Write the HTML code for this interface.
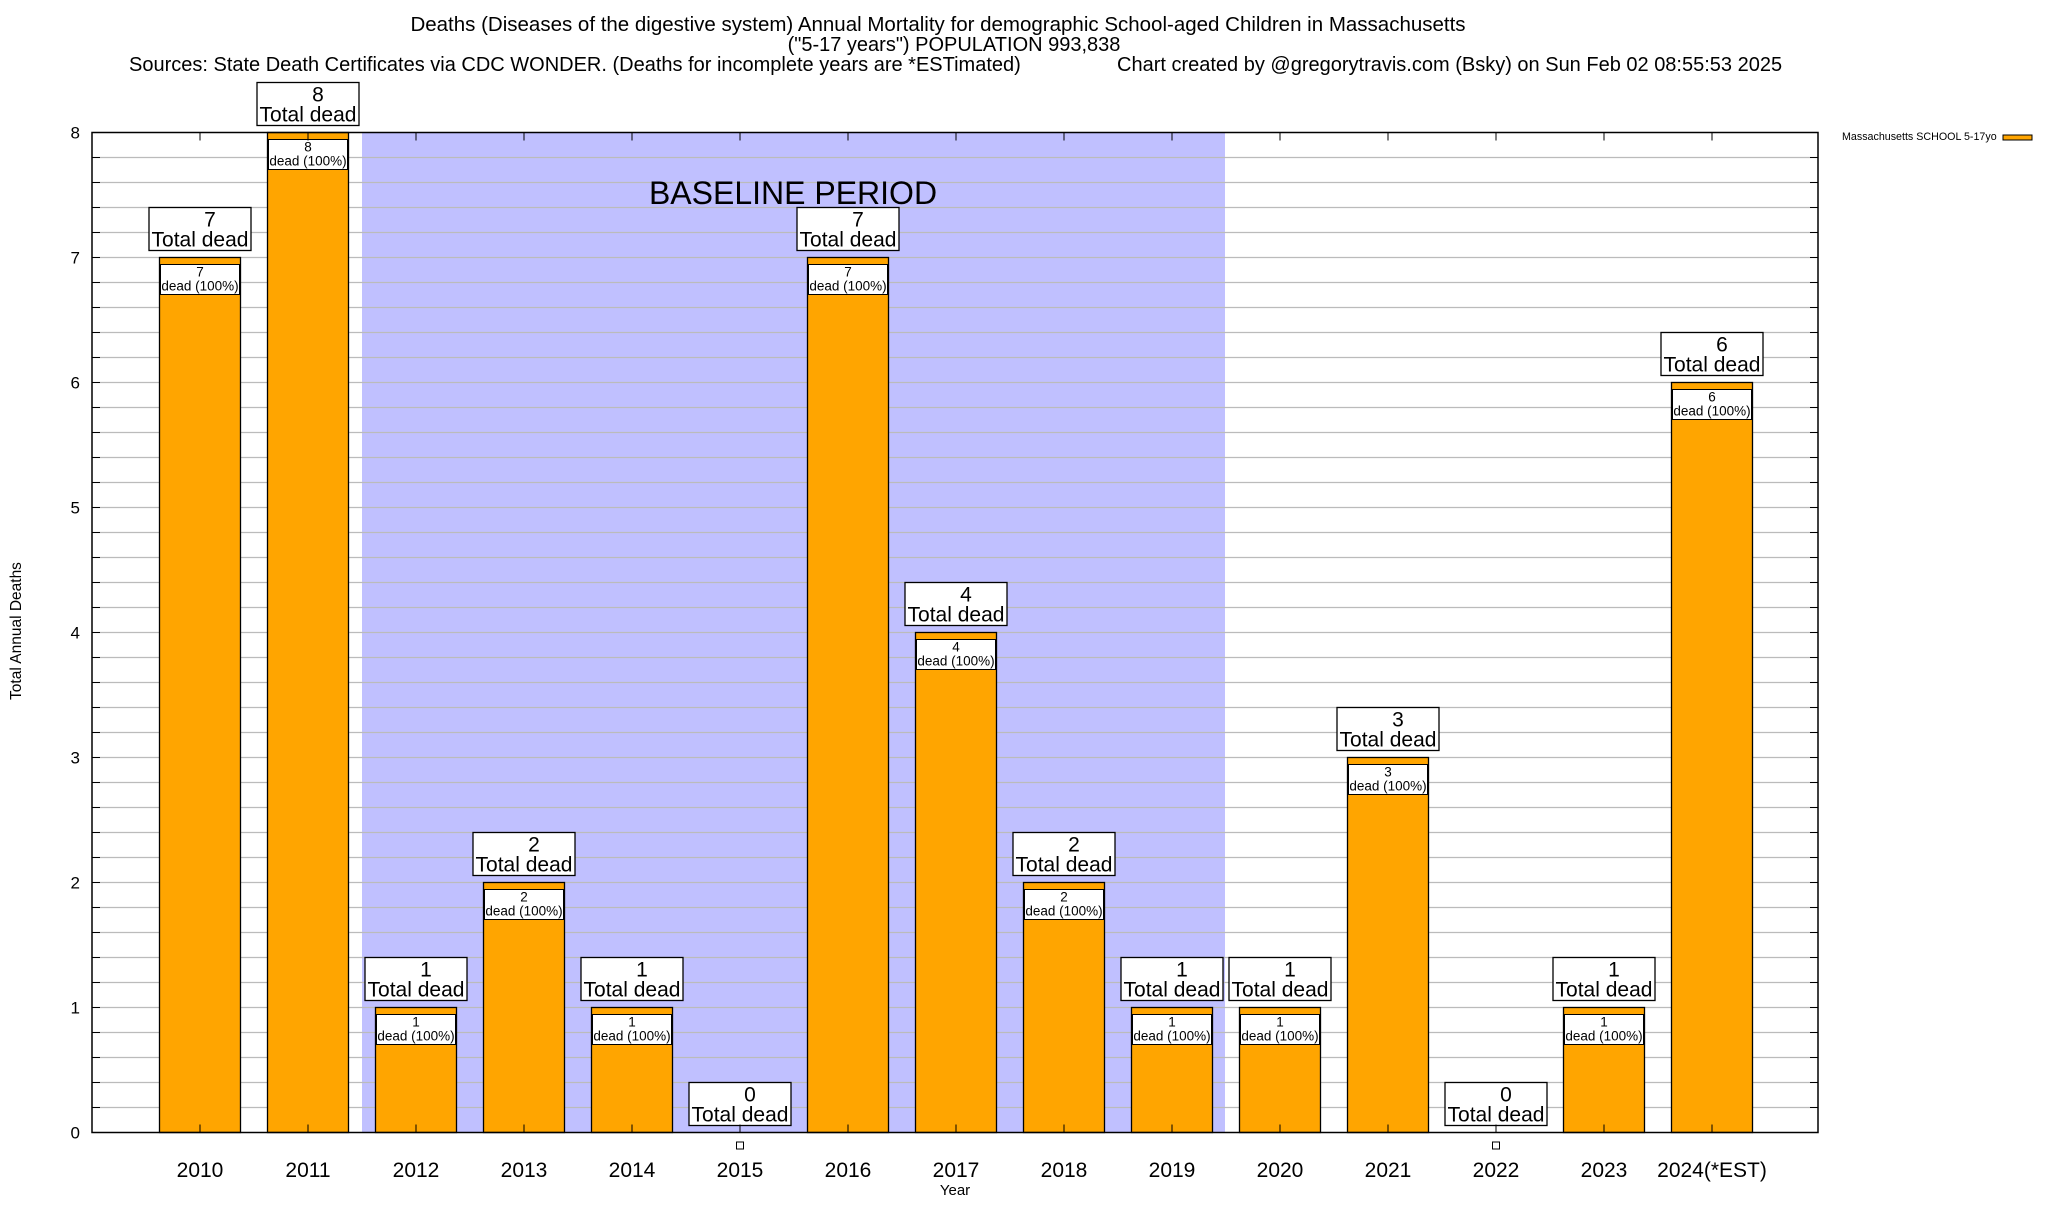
<!DOCTYPE html>
<html><head><meta charset="utf-8"><style>
body{margin:0;background:#fff;}
svg text{font-family:"Liberation Sans",sans-serif;fill:#000;}
</style></head><body>
<svg width="2048" height="1200" viewBox="0 0 2048 1200">
<g>
<text x="938" y="31" font-size="20.5" text-anchor="middle">Deaths (Diseases of the digestive system) Annual Mortality for demographic School-aged Children in Massachusetts</text>
<text x="954" y="51" font-size="20" text-anchor="middle">("5-17 years") POPULATION 993,838</text>
<text x="129" y="71" font-size="20">Sources: State Death Certificates via CDC WONDER. (Deaths for incomplete years are *ESTimated)</text>
<text x="1117" y="71" font-size="20">Chart created by @gregorytravis.com (Bsky) on Sun Feb 02 08:55:53 2025</text>
</g>
<rect x="362" y="132.5" width="863" height="1000" fill="#c0c0ff"/>
<g id="grid"></g>
<text x="793" y="204" font-size="32" text-anchor="middle">BASELINE PERIOD</text>
<g id="bars"></g>
<rect x="92" y="132.5" width="1726" height="1000" fill="none" stroke="#000" stroke-width="1.5"/>
<g id="yticks"></g>
<g id="xticks"></g>
<text transform="translate(21,631) rotate(-90)" font-size="15.5" text-anchor="middle">Total Annual Deaths</text>
<text x="955" y="1195" font-size="15" text-anchor="middle">Year</text>
<g>
<text x="1842" y="140" font-size="10.7">Massachusetts SCHOOL 5-17yo</text>
<rect x="2003" y="135" width="29" height="5" fill="#ffa500" stroke="#000" stroke-width="1"/>
</g>
</svg>
<script>
const categories=["2010","2011","2012","2013","2014","2015","2016","2017","2018","2019","2020","2021","2022","2023","2024(*EST)"];
const deaths=[7,8,1,2,1,0,7,4,2,1,1,3,0,1,6];
const yTicks=[0,1,2,3,4,5,6,7,8];
const NS="http://www.w3.org/2000/svg";
const x0=92,x1=1818,yTop=132.5,yBot=1132.5,yMax=8;
const y=v=>yBot-(v/yMax)*(yBot-yTop);
const xc=i=>200+i*108;
const bw=81;
function mk(tag,attrs,parent,txt){const e=document.createElementNS(NS,tag);for(const k in attrs)e.setAttribute(k,attrs[k]);if(txt!==undefined)e.textContent=txt;parent.appendChild(e);return e;}
const grid=document.getElementById('grid');
for(let v=0.2;v<yMax-0.01;v+=0.2){
 const l=mk('line',{x1:x0,x2:x1,y1:y(v),y2:y(v),stroke:'#bbb','stroke-width':1.2},grid);
 
 
}
const yt=document.getElementById('yticks');
yTicks.forEach(v=>{
 const t=mk('text',{x:80,y:y(v)+6,'font-size':17,'text-anchor':'end'},yt,String(v));
 
 
});
for(let v=0.2;v<=yMax;v+=0.2){
 mk('line',{x1:x0,x2:x0+8,y1:y(v),y2:y(v),stroke:'#000','stroke-width':1},yt);
 mk('line',{x1:x1,x2:x1-8,y1:y(v),y2:y(v),stroke:'#000','stroke-width':1},yt);
}
const xt=document.getElementById('xticks');
const bars=document.getElementById('bars');
categories.forEach((c,i)=>{
 const cx=xc(i),v=deaths[i];
 const t=mk('text',{x:cx,y:1177,'font-size':21,'text-anchor':'middle'},xt,c);
 
 
 mk('line',{x1:cx,x2:cx,y1:yBot,y2:yBot-8,stroke:'#000','stroke-width':1},xt);
 mk('line',{x1:cx,x2:cx,y1:yTop,y2:yTop+8,stroke:'#000','stroke-width':1},xt);
 const g=mk('g',{},bars);
 
 
 if(v>0){
  mk('rect',{x:cx-bw/2,y:y(v),width:bw,height:yBot-y(v),fill:'#ffa500',stroke:'#000','stroke-width':1.3},g);
  mk('rect',{x:cx-bw/2+1,y:y(v)+7,width:bw-2,height:30,fill:'#fff',stroke:'#000','stroke-width':1},g);
  mk('text',{x:cx,y:y(v)+19,'font-size':13.5,'text-anchor':'middle'},g,String(v));
  mk('text',{x:cx,y:y(v)+33,'font-size':13.5,'text-anchor':'middle'},g,'dead (100%)');
 } else {
  mk('rect',{x:cx-3.5,y:1142,width:7,height:7,fill:'#fff',stroke:'#000','stroke-width':1},g);
 }
 const top=y(v)-7;
 mk('rect',{x:cx-51,y:top-43,width:102,height:43,fill:'#fff',stroke:'#000','stroke-width':1.3},g);
 mk('text',{x:cx+10,y:top-24,'font-size':21,'text-anchor':'middle'},g,String(v));
 mk('text',{x:cx,y:top-4,'font-size':21,'text-anchor':'middle'},g,'Total dead');
});
</script>
</body></html>
